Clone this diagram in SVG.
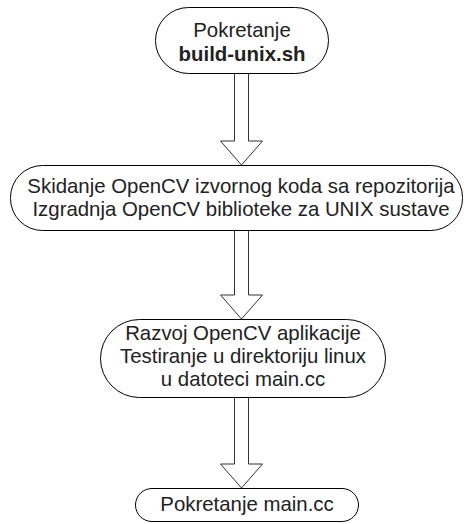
<svg xmlns="http://www.w3.org/2000/svg" width="472" height="524" viewBox="0 0 472 524">
<style>
.n{fill:#fff;stroke:#000;stroke-width:1}
.t{font-family:"Liberation Sans",Arial,sans-serif;font-size:20.4px;fill:#222;text-anchor:middle}
.b{font-weight:bold}
.a{fill:#fff;stroke:#333;stroke-width:1;stroke-linejoin:miter}
</style>
<rect width="472" height="524" fill="#fff"/>
<g id="connectors">
<path class="a" d="M234.5,73 L234.5,141 L220.5,141 L241.5,165 L262.5,141 L248.5,141 L248.5,73"/>
<path class="a" d="M234.5,230 L234.5,295 L220.5,295 L241.5,319 L262.5,295 L248.5,295 L248.5,230"/>
<path class="a" d="M234.5,397 L234.5,464 L220.5,464 L241.5,488 L262.5,464 L248.5,464 L248.5,397"/>
</g>
<g id="node1">
<rect class="n" x="155.5" y="7.5" width="173" height="66" rx="33"/>
<text class="t" x="242" y="37">Pokretanje</text>
<text class="t b" x="242" y="61">build-unix.sh</text>
</g>
<g id="node2">
<rect class="n" x="10.5" y="165.5" width="452" height="65" rx="32"/>
<text class="t" x="241" y="193">Skidanje OpenCV izvornog koda sa repozitorija</text>
<text class="t" x="241" y="216">Izgradnja OpenCV biblioteke za UNIX sustave</text>
</g>
<g id="node3">
<rect class="n" x="100.5" y="319.5" width="285" height="78" rx="39"/>
<text class="t" x="243" y="340">Razvoj OpenCV aplikacije</text>
<text class="t" x="243" y="363">Testiranje u direktoriju linux</text>
<text class="t" x="243" y="386">u datoteci main.cc</text>
</g>
<g id="node4">
<rect class="n" x="135.5" y="488.5" width="223" height="33" rx="16.5"/>
<text class="t" x="247" y="511">Pokretanje main.cc</text>
</g>
</svg>
